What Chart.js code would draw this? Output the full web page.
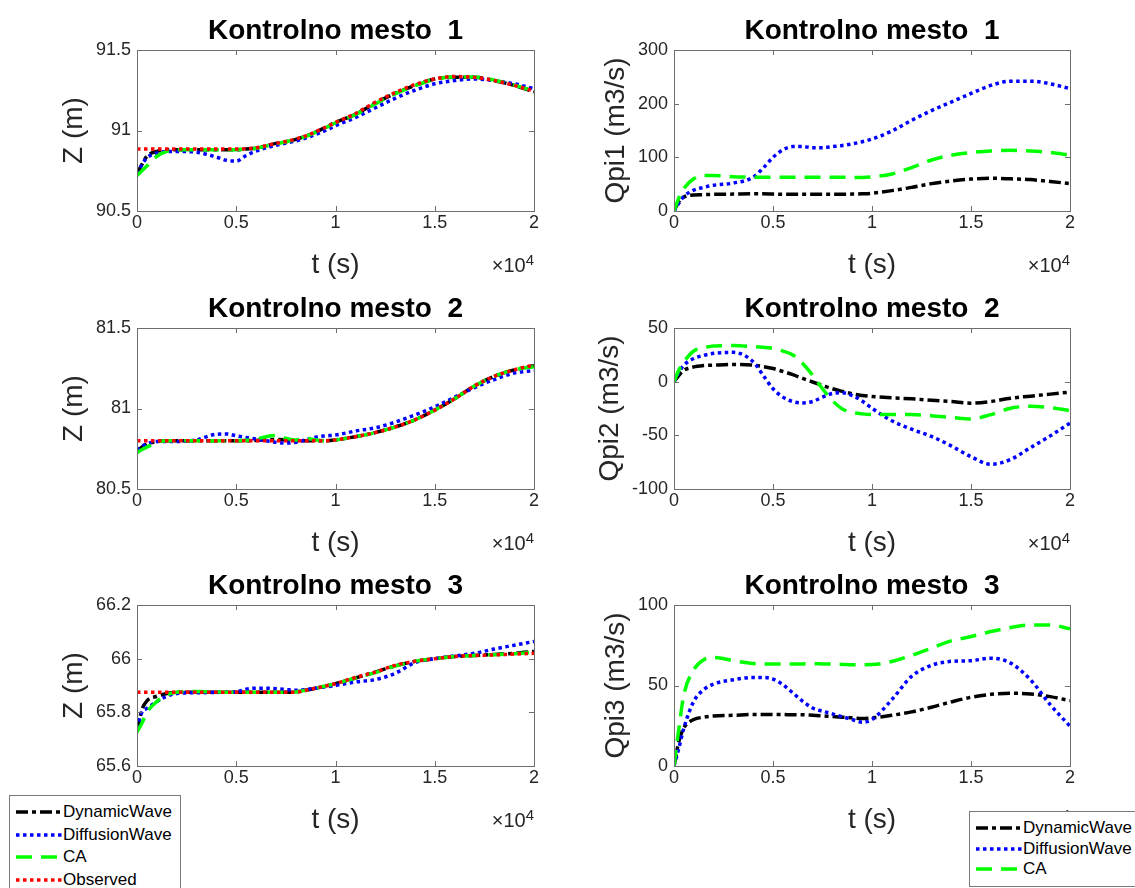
<!DOCTYPE html>
<html>
<head>
<meta charset="utf-8">
<script src="https://cdn.jsdelivr.net/npm/chart.js@4.4.1/dist/chart.umd.min.js"></script>
<style>
  body { margin: 0; width: 1135px; height: 888px; overflow: hidden; background: #fff; position: relative; font-family: "Liberation Sans", Arial, sans-serif; }
  canvas { position: absolute; }
  .legend { position: absolute; background: #fff; border: 1px solid #7a7a7a; box-sizing: border-box; }
  .legend .item { position: absolute; height: 22px; line-height: 22px; font-size: 17px; color: #000; white-space: nowrap; }
  .legend svg { position: absolute; top: 6px; }
  .legend span { position: absolute; top: 0; }
</style>
</head>
<body>
<script>
// time axis (s)
const times = [0, 250, 500, 1000, 1500, 2000, 3000, 4000, 4500, 5000, 5500, 6000, 6500, 7000, 7500,
               8000, 8500, 9000, 9500, 10000, 11000, 12000, 13000, 14000, 15000, 16000, 17000, 18000, 19000, 20000]
const xTicks = [0, 5000, 10000, 15000, 20000]
const xTickLabels = ['0', '0.5', '1', '1.5', '2']

const seriesNames = ['DynamicWave', 'DiffusionWave', 'CA', 'Observed']

// Kontrolno mesto 1
const z1Dyn = [90.73, 90.79, 90.84, 90.87, 90.88, 90.88, 90.88, 90.88, 90.88, 90.88, 90.885, 90.89, 90.905, 90.92, 90.93,
               90.945, 90.965, 90.99, 91.02, 91.05, 91.10, 91.17, 91.23, 91.28, 91.32, 91.33, 91.33, 91.31, 91.28, 91.24]
const z1Dif = [90.73, 90.79, 90.83, 90.86, 90.87, 90.87, 90.865, 90.835, 90.815, 90.81, 90.845, 90.872, 90.892, 90.908, 90.922,
               90.935, 90.953, 90.975, 91.0, 91.03, 91.08, 91.14, 91.20, 91.25, 91.29, 91.31, 91.32, 91.31, 91.29, 91.26]
const z1CA  = [90.72, 90.75, 90.78, 90.84, 90.87, 90.88, 90.88, 90.88, 90.88, 90.88, 90.885, 90.89, 90.903, 90.918, 90.93,
               90.944, 90.963, 90.988, 91.017, 91.048, 91.098, 91.165, 91.228, 91.278, 91.318, 91.332, 91.332, 91.312, 91.282, 91.245]
const z1Obs = [90.885, 90.885, 90.885, 90.885, 90.885, 90.885, 90.885, 90.885, 90.885, 90.885, 90.887, 90.892, 90.905, 90.92, 90.932,
               90.947, 90.967, 90.992, 91.02, 91.05, 91.105, 91.175, 91.235, 91.285, 91.32, 91.335, 91.33, 91.31, 91.28, 91.245]
const q1Dyn = [0, 18, 26, 30, 30.5, 31, 31.5, 32, 32, 31.5, 31, 31, 31, 31, 31,
               31, 31, 31.5, 32, 33, 38, 44, 51, 56, 59.5, 61, 60, 58.5, 55, 51]
const q1Dif = [0, 15, 27, 39, 44, 48, 52, 63, 80, 100, 114, 120, 120, 118, 118,
               120, 122, 125, 129, 134, 149, 169, 187, 203, 219, 234, 242, 242, 237, 228]
const q1CA  = [0, 25, 42, 60, 66, 66, 64, 63, 63, 63, 63, 63, 63, 63, 63,
               63, 63, 62.5, 62.5, 63.5, 69, 81, 95, 104, 109, 112, 113, 112, 109, 104]

// Kontrolno mesto 2
const z2Dyn = [80.735, 80.76, 80.78, 80.795, 80.80, 80.80, 80.80, 80.80, 80.80, 80.80, 80.80, 80.802, 80.806, 80.808, 80.805,
               80.80, 80.80, 80.80, 80.80, 80.805, 80.825, 80.85, 80.885, 80.93, 80.99, 81.06, 81.14, 81.20, 81.24, 81.265]
const z2Dif = [80.74, 80.765, 80.78, 80.795, 80.795, 80.795, 80.805, 80.84, 80.842, 80.83, 80.82, 80.81, 80.80, 80.79, 80.785,
               80.79, 80.805, 80.822, 80.83, 80.835, 80.86, 80.88, 80.915, 80.96, 81.01, 81.07, 81.13, 81.18, 81.22, 81.235]
const z2CA  = [80.725, 80.745, 80.76, 80.79, 80.80, 80.80, 80.80, 80.80, 80.80, 80.80, 80.803, 80.81, 80.825, 80.832, 80.815,
               80.805, 80.815, 80.805, 80.80, 80.805, 80.825, 80.85, 80.885, 80.93, 80.99, 81.06, 81.14, 81.20, 81.24, 81.26]
const z2Obs = [80.80, 80.80, 80.80, 80.80, 80.80, 80.80, 80.80, 80.80, 80.80, 80.80, 80.80, 80.80, 80.80, 80.80, 80.80,
               80.80, 80.80, 80.80, 80.80, 80.805, 80.825, 80.85, 80.885, 80.93, 80.99, 81.06, 81.14, 81.20, 81.24, 81.27]
const q2Dyn = [0, 6, 10.5, 13.8, 15, 15.4, 16, 15.4, 14, 12.2, 9.5, 6.6, 3, -0.3, -3.5,
               -6.6, -9, -11.3, -12.8, -13.8, -15, -16, -17.3, -18.5, -20, -18.5, -15.4, -13.5, -11.6, -9.7]
const q2Dif = [0, 9, 15.4, 21.6, 24.5, 26.4, 27.3, 18.5, 6, -6.6, -14.4, -18.5, -19.8, -18.5, -14.4,
               -11, -10.4, -12.9, -18, -24.8, -36.4, -44.3, -51, -59.8, -69.9, -77, -72.5, -61.5, -50.5, -38.6]
const q2CA  = [0, 11, 18.5, 28.6, 31.5, 33.3, 33.6, 32.7, 32, 31, 28.5, 24.8, 17, 6, -6.6,
               -17.6, -25.4, -28.6, -30, -30.7, -30.7, -30.7, -31.7, -33.3, -34.8, -30.7, -24.8, -22.9, -24.2, -27]

// Kontrolno mesto 3
const z3Dyn = [65.728, 65.81, 65.843, 65.86, 65.87, 65.875, 65.875, 65.875, 65.875, 65.875, 65.875, 65.875, 65.875, 65.875, 65.875,
               65.876, 65.882, 65.89, 65.898, 65.907, 65.928, 65.95, 65.973, 65.99, 66.0, 66.008, 66.012, 66.016, 66.02, 66.027]
const z3Dif = [65.74, 65.80, 65.815, 65.84, 65.86, 65.87, 65.873, 65.874, 65.875, 65.876, 65.886, 65.89, 65.89, 65.888, 65.885,
               65.882, 65.885, 65.89, 65.895, 65.90, 65.913, 65.922, 65.945, 65.985, 66.0, 66.01, 66.02, 66.036, 66.05, 66.064]
const z3CA  = [65.726, 65.76, 65.80, 65.84, 65.865, 65.875, 65.878, 65.876, 65.875, 65.875, 65.875, 65.875, 65.875, 65.875, 65.875,
               65.876, 65.882, 65.89, 65.898, 65.907, 65.928, 65.948, 65.972, 65.99, 66.0, 66.008, 66.012, 66.015, 66.018, 66.025]
const z3Obs = [65.875, 65.875, 65.875, 65.875, 65.875, 65.875, 65.875, 65.875, 65.875, 65.875, 65.875, 65.875, 65.875, 65.875, 65.875,
               65.875, 65.882, 65.89, 65.898, 65.907, 65.93, 65.95, 65.975, 65.99, 66.0, 66.008, 66.012, 66.014, 66.017, 66.02]
const q3Dyn = [0, 15.5, 23.7, 28.9, 30.3, 31.1, 31.5, 32, 32, 32, 32, 31.8, 31.8, 31.5, 31.2,
               30.7, 30.3, 29.9, 29.5, 29.9, 31.5, 33.6, 36.5, 39.8, 42.7, 44.5, 45.2, 44.7, 43.1, 40.6]
const q3Dif = [0, 11.3, 23.7, 40.2, 47.4, 50.9, 53.6, 55, 55, 54, 50.5, 45.4, 40.2, 36, 34,
               32.4, 30.6, 28.9, 27.2, 28.9, 41.2, 55.7, 62.5, 65, 65.4, 67, 63.9, 53.6, 38.1, 24.7]
const q3CA  = [0, 23.7, 44.3, 59.8, 66, 67.4, 65.4, 63.7, 63.4, 63.3, 63.3, 63.3, 63.4, 63.5, 63.4,
               63.3, 63.1, 62.9, 62.9, 63, 64.9, 68.7, 73.2, 77.7, 80.4, 83.5, 86, 87.6, 87.6, 85.2]

// y tick values
const zTicks1 = [90.5, 91, 91.5]
const zTicks2 = [80.5, 81, 81.5]
const zTicks3 = [65.6, 65.8, 66, 66.2]
const qTicks1 = [0, 100, 200, 300]
const qTicks2 = [-100, -50, 0, 50]
const qTicks3 = [0, 50, 100]

const FONT = '"Liberation Sans", Arial, Helvetica, sans-serif'
const styles = [
  { color: '#000000', dash: [12, 4, 4, 4] },
  { color: '#0000ff', dash: [3.5, 3.5] },
  { color: '#00ff00', dash: [16, 9] },
  { color: '#ff0000', dash: [3.5, 3.5] }
]

const COLS = [{ x: 0, l: 137, r: 534, rw: 40 }, { x: 560, l: 674, r: 1070, rw: 65 }]
const ROWS = [{ t: 50, b: 211 }, { t: 328, b: 489 }, { t: 605, b: 766 }]
const TOP = 45, BOTTOM = 75

// box, inward ticks, title and x10^4
const matlabAxes = {
  id: 'matlabAxes',
  afterDraw(chart, args, opts) {
    const ctx = chart.ctx
    const a = chart.chartArea
    const xs = chart.scales.x, ys = chart.scales.y
    ctx.save()
    ctx.strokeStyle = '#6e6e6e'
    ctx.lineWidth = 1
    ctx.strokeRect(Math.round(a.left) + 0.5, Math.round(a.top) + 0.5, Math.round(a.right - a.left), Math.round(a.bottom - a.top))
    ctx.beginPath()
    xs.ticks.forEach(t => {
      const px = Math.round(xs.getPixelForValue(t.value)) + 0.5
      ctx.moveTo(px, a.bottom); ctx.lineTo(px, a.bottom - 5)
      ctx.moveTo(px, a.top); ctx.lineTo(px, a.top + 5)
    })
    ys.ticks.forEach(t => {
      const py = Math.round(ys.getPixelForValue(t.value)) + 0.5
      ctx.moveTo(a.left, py); ctx.lineTo(a.left + 5, py)
      ctx.moveTo(a.right, py); ctx.lineTo(a.right - 5, py)
    })
    ctx.stroke()

    ctx.fillStyle = '#000'
    ctx.font = 'bold 28px ' + FONT
    ctx.textAlign = 'center'
    ctx.textBaseline = 'alphabetic'
    ctx.fillText(opts.title, (a.left + a.right) / 2, a.top - 11.5)

    ctx.fillStyle = '#262626'
    ctx.textAlign = 'right'
    ctx.font = '15px ' + FONT
    const w4 = ctx.measureText('4').width
    ctx.fillText('4', a.right, a.bottom + 54)
    ctx.font = '20px ' + FONT
    ctx.fillText('\u00d710', a.right - w4, a.bottom + 61)
    ctx.restore()
  }
}

function plot(col, row, title, yLabel, yTicks, labelX, series) {
  const c = COLS[col], r = ROWS[row]
  const lw = c.l - c.x
  const cvs = document.createElement('canvas')
  cvs.width = (c.r - c.l) + lw + c.rw
  cvs.height = (r.b - r.t) + TOP + BOTTOM
  cvs.style.left = c.x + 'px'
  cvs.style.top = (r.t - TOP) + 'px'
  document.body.appendChild(cvs)

  const datasets = series.map((vals, i) => ({
    label: seriesNames[i],
    data: times.map((t, k) => ({ x: t, y: vals[k] })),
    borderColor: styles[i].color,
    borderDash: styles[i].dash,
    borderWidth: 3.5,
    pointRadius: 0,
    fill: false,
    cubicInterpolationMode: 'monotone',
    order: 4 - i
  }))

  new Chart(cvs, {
    type: 'line',
    data: { datasets },
    options: {
      responsive: false,
      animation: false,
      events: [],
      layout: { padding: { top: TOP, right: c.rw, left: 0, bottom: 0 } },
      plugins: { legend: { display: false }, tooltip: { enabled: false }, matlabAxes: { title } },
      scales: {
        x: {
          type: 'linear', min: 0, max: 20000,
          grid: { display: false, drawTicks: false },
          border: { display: false },
          afterBuildTicks: s => { s.ticks = xTicks.map(v => ({ value: v })) },
          afterFit: s => { s.height = BOTTOM },
          ticks: {
            padding: 1, color: '#262626', font: { family: FONT, size: 18 },
            maxRotation: 0, autoSkip: false,
            callback: v => xTickLabels[xTicks.indexOf(v)]
          },
          title: { display: true, text: 't (s)', color: '#262626', font: { family: FONT, size: 28 }, padding: { top: 0, bottom: 3.7 } }
        },
        y: {
          type: 'linear', min: yTicks[0], max: yTicks[yTicks.length - 1],
          grid: { display: false, drawTicks: false },
          border: { display: false },
          afterBuildTicks: s => { s.ticks = yTicks.map(v => ({ value: v })) },
          afterFit: s => { s.width = lw },
          ticks: {
            padding: 6, color: '#262626', font: { family: FONT, size: 18 }, autoSkip: false,
            callback: v => String(v)
          },
          title: { display: true, text: yLabel, color: '#262626', font: { family: FONT, size: 28 }, padding: { top: labelX - c.x - 16.8, bottom: 0 } }
        }
      }
    },
    plugins: [matlabAxes]
  })
}

plot(0, 0, 'Kontrolno mesto  1', 'Z (m)', zTicks1, 74.5, [z1Dyn, z1Dif, z1CA, z1Obs])
plot(1, 0, 'Kontrolno mesto  1', 'Qpi1 (m3/s)', qTicks1, 616, [q1Dyn, q1Dif, q1CA])
plot(0, 1, 'Kontrolno mesto  2', 'Z (m)', zTicks2, 74.5, [z2Dyn, z2Dif, z2CA, z2Obs])
plot(1, 1, 'Kontrolno mesto  2', 'Qpi2 (m3/s)', qTicks2, 610, [q2Dyn, q2Dif, q2CA])
plot(0, 2, 'Kontrolno mesto  3', 'Z (m)', zTicks3, 74.5, [z3Dyn, z3Dif, z3CA, z3Obs])
plot(1, 2, 'Kontrolno mesto  3', 'Qpi3 (m3/s)', qTicks3, 616, [q3Dyn, q3Dif, q3CA])

// legends
function legend(left, top, width, height, count, firstY, step) {
  const box = document.createElement('div')
  box.className = 'legend'
  box.style.cssText = `left:${left}px;top:${top}px;width:${width}px;height:${height}px`
  for (let i = 0; i < count; i++) {
    const item = document.createElement('div')
    item.className = 'item'
    item.style.top = (firstY + i * step - 11) + 'px'
    item.style.left = '0px'
    const s = styles[i]
    item.innerHTML = `<svg width="46" height="10" style="left:6px"><line x1="0" y1="5" x2="46" y2="5" stroke="${s.color}" stroke-width="3.5" stroke-dasharray="${s.dash.join(' ')}"/></svg><span style="left:53px">${seriesNames[i]}</span>`
    box.appendChild(item)
  }
  document.body.appendChild(box)
}
legend(9, 795, 172, 110, 4, 16, 22.7)
legend(969, 811, 180, 76, 3, 16, 20.5)
</script>
</body>
</html>
